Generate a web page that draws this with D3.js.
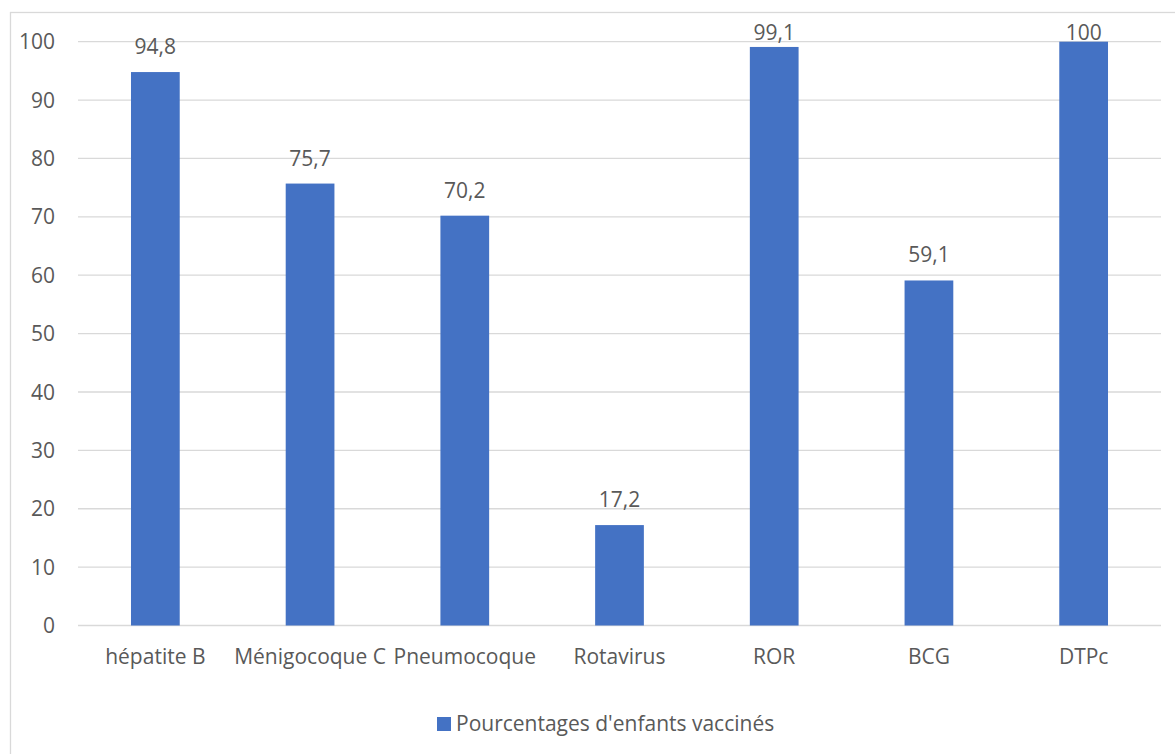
<!DOCTYPE html>
<html><head><meta charset="utf-8">
<script src="https://cdn.jsdelivr.net/npm/d3@7"></script>
<style>body{margin:0;background:#fff}svg{display:block}text{font-family:"Open Sans",sans-serif;fill:#595959}</style>
</head><body>
<svg id="c" width="1175" height="754"></svg>
<script>
const categories = ["hépatite B","Ménigocoque C","Pneumocoque","Rotavirus","ROR","BCG","DTPc"];
const values = [94.8, 75.7, 70.2, 17.2, 99.1, 59.1, 100];
const valueLabels = ["94,8","75,7","70,2","17,2","99,1","59,1","100"];
const yTicks = [0,10,20,30,40,50,60,70,80,90,100];
const seriesName = "Pourcentages d'enfants vaccinés";

const svg = d3.select("#c");
svg.append("rect").attr("x",10.5).attr("y",12.5).attr("width",1300).attr("height",900)
  .attr("fill","none").attr("stroke","#d9d9d9").attr("stroke-width",1.3);

const x = d3.scaleBand().domain(categories).range([78,1161]);
const y = d3.scaleLinear().domain([0,100]).range([625.5,41.7]);
const fs = 21;

// gridlines
svg.append("g").selectAll("line").data(yTicks).join("line")
  .attr("x1",78).attr("x2",1161).attr("y1",d=>y(d)).attr("y2",d=>y(d))
  .attr("stroke","#d9d9d9").attr("stroke-width",1.3);

// y tick labels
svg.append("g").selectAll("text").data(yTicks).join("text")
  .attr("x",55).attr("y",d=>y(d)).attr("dy","0.36em").attr("text-anchor","end")
  .attr("font-size",fs).text(d=>d);

const bw = x.bandwidth()*0.315;
svg.append("g").selectAll("rect").data(values).join("rect")
  .attr("x",(d,i)=>x(categories[i])+x.bandwidth()/2-bw/2)
  .attr("width",bw)
  .attr("y",d=>y(d)).attr("height",d=>y(0)-y(d))
  .attr("fill","#4472c4");

// value labels
svg.append("g").selectAll("text").data(values).join("text")
  .attr("x",(d,i)=>x(categories[i])+x.bandwidth()/2)
  .attr("y",d=>Math.max(y(d)-18,40))
  .attr("text-anchor","middle").attr("font-size",fs)
  .text((d,i)=>valueLabels[i]);

// x labels
svg.append("g").selectAll("text").data(categories).join("text")
  .attr("x",d=>x(d)+x.bandwidth()/2).attr("y",664)
  .attr("text-anchor","middle").attr("font-size",fs).text(d=>d);

// legend
svg.append("rect").attr("x",437).attr("y",717).attr("width",14).attr("height",14).attr("fill","#4472c4");
svg.append("text").attr("x",456).attr("y",731).attr("font-size",fs).text(seriesName);
</script>
</body></html>
